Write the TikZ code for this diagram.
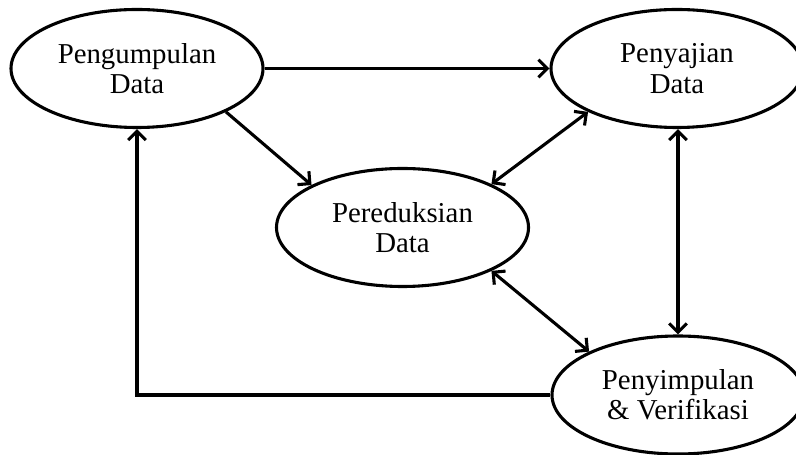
\documentclass[tikz,border=0pt]{standalone}
\usepackage{fontspec}
\setmainfont{Liberation Serif}
\usetikzlibrary{shapes.geometric,arrows.meta}
\begin{document}
\begin{tikzpicture}[blob/.style={draw,ellipse,line width=2.2pt,minimum width=6.3cm,minimum height=2.95cm,inner sep=0pt,align=center,font=\fontsize{20.5}{21.5}\selectfont},
                    panah/.style={line width=2.2pt,>={Straight Barb[length=2.2mm,width=4.4mm]}}]
                \useasboundingbox (0,0) rectangle (19.9,11.35) ;
                \node [blob] (kumpul) at (3.425,9.6375) {Pengumpulan\\Data} ;
                \node [blob] (saji) at (16.925,9.6375) {Penyajian\\Data} ;
                \node [blob] (reduksi) at (10.0625,5.6625) {Pereduksian\\Data} ;
                \node [blob] (simpul) at (16.95,1.475) {Penyimpulan\\\& Verifikasi} ;
                \draw [panah,->] (kumpul.east) -- (saji.west) ;
                \draw [panah,->] (kumpul.-26) -- (reduksi.155) ;
                \draw [panah,<->] (saji.206) -- (reduksi.26) ;
                \draw [panah,<->] (reduksi.-26) -- (simpul.154) ;
                \draw [panah,<->] (saji.south -| simpul.north) -- (simpul.north) ;
                \draw [panah,->] (simpul.west) -| (kumpul.south) ;
            \end{tikzpicture}
\end{document}
